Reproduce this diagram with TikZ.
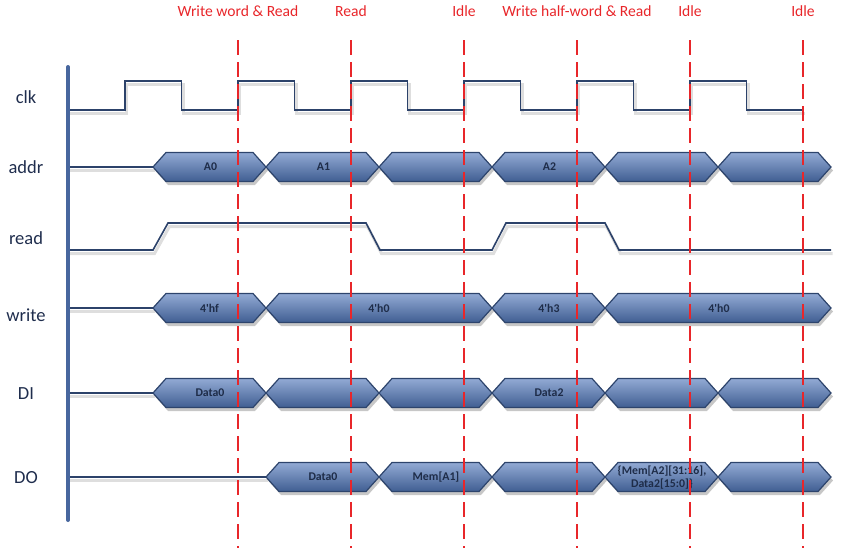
\documentclass[tikz,border=0pt]{standalone}
\usepackage{fontspec}
\setmainfont{Carlito}
\usetikzlibrary{shadows}
\definecolor{wavecol}{RGB}{44,66,106}
\definecolor{axiscol}{RGB}{72,103,158}
\definecolor{bustop}{RGB}{146,170,212}
\definecolor{busbot}{RGB}{64,94,146}
\definecolor{busline}{RGB}{45,68,108}
\definecolor{bustxt}{RGB}{30,44,72}
\definecolor{signamecol}{RGB}{31,45,77}
\definecolor{cutred}{RGB}{232,38,42}
% one bus segment: left point, right point, row
\newcommand{\hexbus}[3]{\path[busseg] (#1,#3) -- (#1+13,#3-14.5) -- (#2-13,#3-14.5) -- (#2,#3) -- (#2-13,#3+14.5) -- (#1+13,#3+14.5) -- cycle;}
\begin{document}
\begin{tikzpicture}[x=1pt,y=-1pt,
    wave/.style={draw=wavecol,line width=1.6pt,
        preaction={draw=black!13,line width=3pt,transform canvas={xshift=1.5pt,yshift=-3.5pt}}},
    busseg/.style={draw=busline,line width=1.2pt,top color=bustop,bottom color=busbot,
        drop shadow={shadow xshift=2pt,shadow yshift=-3.5pt,fill=black,opacity=0.22}},
    bustext/.style={font=\bfseries\fontsize{11.8}{13}\selectfont,text=bustxt,align=center,inner sep=0pt},
    signame/.style={font=\fontsize{18.5}{20}\selectfont,text=signamecol},
    phaselabel/.style={font=\fontsize{15.6}{17}\selectfont,text=cutred},
    cutline/.style={draw=cutred,line width=2pt,dash pattern=on 14.5pt off 7.5pt}]
\useasboundingbox (0,0) rectangle (841,558);
% signal names
\node (clk) at (26,97) [signame] {clk};
\node (addr) at (26,167) [signame] {addr};
\node (read) at (26,238) [signame] {read};
\node (write) at (26,315) [signame] {write};
\node (DI) at (26,394) [signame] {DI};
\node (DO) at (26,478) [signame] {DO};
% clk and read
\draw[wave] (68,110) foreach \k in {0,...,5} {-- ({125+113*\k},110) -- ++(0,-29) -- ++(56.5,0) -- ++(0,29)} -- (803,110);
\draw[wave] (68,250) -- (153,250) -- (168,223) -- (366,223) -- (380,250) -- (492,250) -- (506,223) -- (605,223) -- (619,250) -- (831,250);
% lead-in lines
\draw[wave,line width=1.3pt] (68,167) -- (153,167);
\draw[wave,line width=1.3pt] (68,308) -- (153,308);
\draw[wave,line width=1.3pt] (68,393) -- (153,393);
\draw[wave,line width=1.3pt] (68,477) -- (266,477);
% addr
\hexbus{153}{266}{167} \hexbus{266}{379}{167} \hexbus{379}{492}{167}
\hexbus{492}{605}{167} \hexbus{605}{718}{167} \hexbus{718}{831}{167}
\node (addrA0) at (210.5,167) [bustext] {A0};
\node (addrA1) at (323.5,167) [bustext] {A1};
\node (addrA2) at (549.5,167) [bustext] {A2};
% write
\hexbus{153}{266}{308} \hexbus{266}{492}{308} \hexbus{492}{605}{308} \hexbus{605}{831}{308}
\node (writeF) at (209.5,308) [bustext] {4\textquotesingle hf};
\node (writeZa) at (379,308) [bustext] {4\textquotesingle h0};
\node (writeT) at (549,308) [bustext] {4\textquotesingle h3};
\node (writeZb) at (719,308) [bustext] {4\textquotesingle h0};
% DI
\hexbus{153}{266}{393} \hexbus{266}{379}{393} \hexbus{379}{492}{393}
\hexbus{492}{605}{393} \hexbus{605}{718}{393} \hexbus{718}{831}{393}
\node (DIa) at (210,393) [bustext] {Data0};
\node (DIb) at (549,393) [bustext] {Data2};
% DO
\hexbus{266}{379}{477} \hexbus{379}{492}{477} \hexbus{492}{605}{477}
\hexbus{605}{718}{477} \hexbus{718}{831}{477}
\node (DOa) at (323,477) [bustext] {Data0};
\node (DOb) at (436,477) [bustext] {Mem[A1]};
\node (DOc) at (662,478) [bustext] {\{Mem[A2][31:16],\\Data2[15:0]\}};
% time axis
\draw[axiscol,line width=4pt,line cap=round] (68,67) -- (68,520);
% phase cuts
\foreach \x in {238,351,464,577,690,803}
  \draw[cutline] (\x,40) -- (\x,548);
\node (ph1) at (238,11) [phaselabel] {Write word \& Read};
\node (ph2) at (351,11) [phaselabel] {Read};
\node (ph3) at (464,11) [phaselabel] {Idle};
\node (ph4) at (577,11) [phaselabel] {Write half-word \& Read};
\node (ph5) at (690,11) [phaselabel] {Idle};
\node (ph6) at (803,11) [phaselabel] {Idle};
\end{tikzpicture}
\end{document}
